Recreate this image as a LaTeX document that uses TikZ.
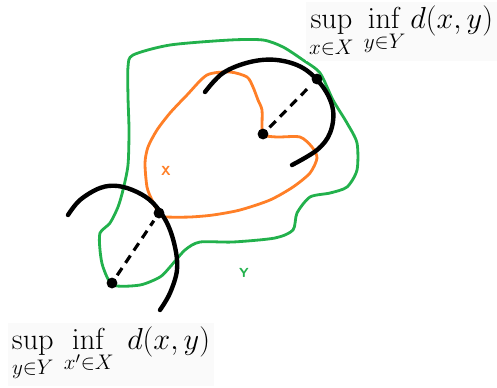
\documentclass[tikz,border=0pt]{standalone}
\usepackage{amsmath,amssymb}
\usepackage{tikz}
\usetikzlibrary{positioning}
\usepackage{xcolor}
\definecolor{paintgreen}{RGB}{34,177,76}
\definecolor{paintorange}{RGB}{255,127,39}
\tikzset{
  setY/.style={draw=paintgreen, line width=1.6pt, line join=round},
  setX/.style={draw=paintorange, line width=1.6pt, line join=round},
  ball/.style={draw=black, line width=2.5pt, line cap=round},
  pt/.style={circle, fill=black, inner sep=0pt, minimum size=6.2pt},
  distline/.style={line width=1.8pt, dash pattern=on 5pt off 3.5pt,
    shorten >=2pt, shorten <=2pt},
  formula/.style={fill=gray!4, inner sep=2pt,
    font=\fontsize{17.5}{20}\selectfont},
  setlbl/.style={font=\sffamily\bfseries\fontsize{7.5}{9}\selectfont},
}

\begin{document}
\begin{tikzpicture}[x=0.02cm, y=-0.02cm]
  \useasboundingbox (0,0) rectangle (497,387);

  % -- Set Y (green) --
  \draw[setY] plot[smooth cycle, tension=0.45] coordinates {
    (133,55) (170,45) (230,40) (263,40) (283,47) (303,60) (320,73)
    (333,100) (347,123) (357,143) (357,170) (347,187) (330,193)
    (310,197) (297,213) (293,230) (275,238) (233,242) (200,242)
    (185,250) (170,267) (160,277) (140,285) (113,285) (103,267)
    (100,250) (100,233) (110,223) (118,207) (123,190) (128,165)
    (129,130) (128,97) (128,67)};
  \node[setlbl, text=paintgreen] (lblY) at (244,273) {Y};

  % -- Set X (orange) --
  \draw[setX] plot[smooth cycle, tension=0.45] coordinates {
    (263,135) (277,137) (300,137) (312,147) (317,158) (310,173)
    (293,187) (270,200) (240,210) (213,215) (190,217) (167,217)
    (160,215) (152,200) (147,187) (145,163) (148,147) (157,130)
    (170,113) (187,95) (207,75) (230,72) (247,77) (253,87)
    (258,100) (262,110) (262,127)};
  \node[setlbl, text=paintorange] (lblX) at (166,171) {X};

  % -- Ball around a point of X --
  \draw[ball] plot[smooth, tension=0.6] coordinates {
    (205,92) (223,73) (250,62) (277,60) (303,68) (323,87)
    (333,110) (330,133) (317,150) (292,165)};
  \node[pt] (cX) at (263,134) {};
  \node[pt] (pY) at (317,79) {};
  \draw[distline] (cX) -- (pY);

  % -- Ball around a point of Y --
  \draw[ball] plot[smooth, tension=0.6] coordinates {
    (68,215) (80,200) (100,188) (118,186) (137,192) (153,203)
    (167,223) (175,247) (177,270) (170,293) (160,310)};
  \node[pt] (cY) at (112,283) {};
  \node[pt] (pX) at (159,213) {};
  \draw[distline] (cY) -- (pX);

  % -- Formulas --
  \node[formula, anchor=north east] (supXY) at (497,2)
       {$\displaystyle\sup_{x\in X}\,\inf_{y\in Y} d(x,y)$};
  \node[formula, anchor=south west] (supYX) at (8,386)
       {$\displaystyle\sup_{y\in Y}\,\inf_{x'\in X}\; d(x,y)$};
\end{tikzpicture}
\end{document}
